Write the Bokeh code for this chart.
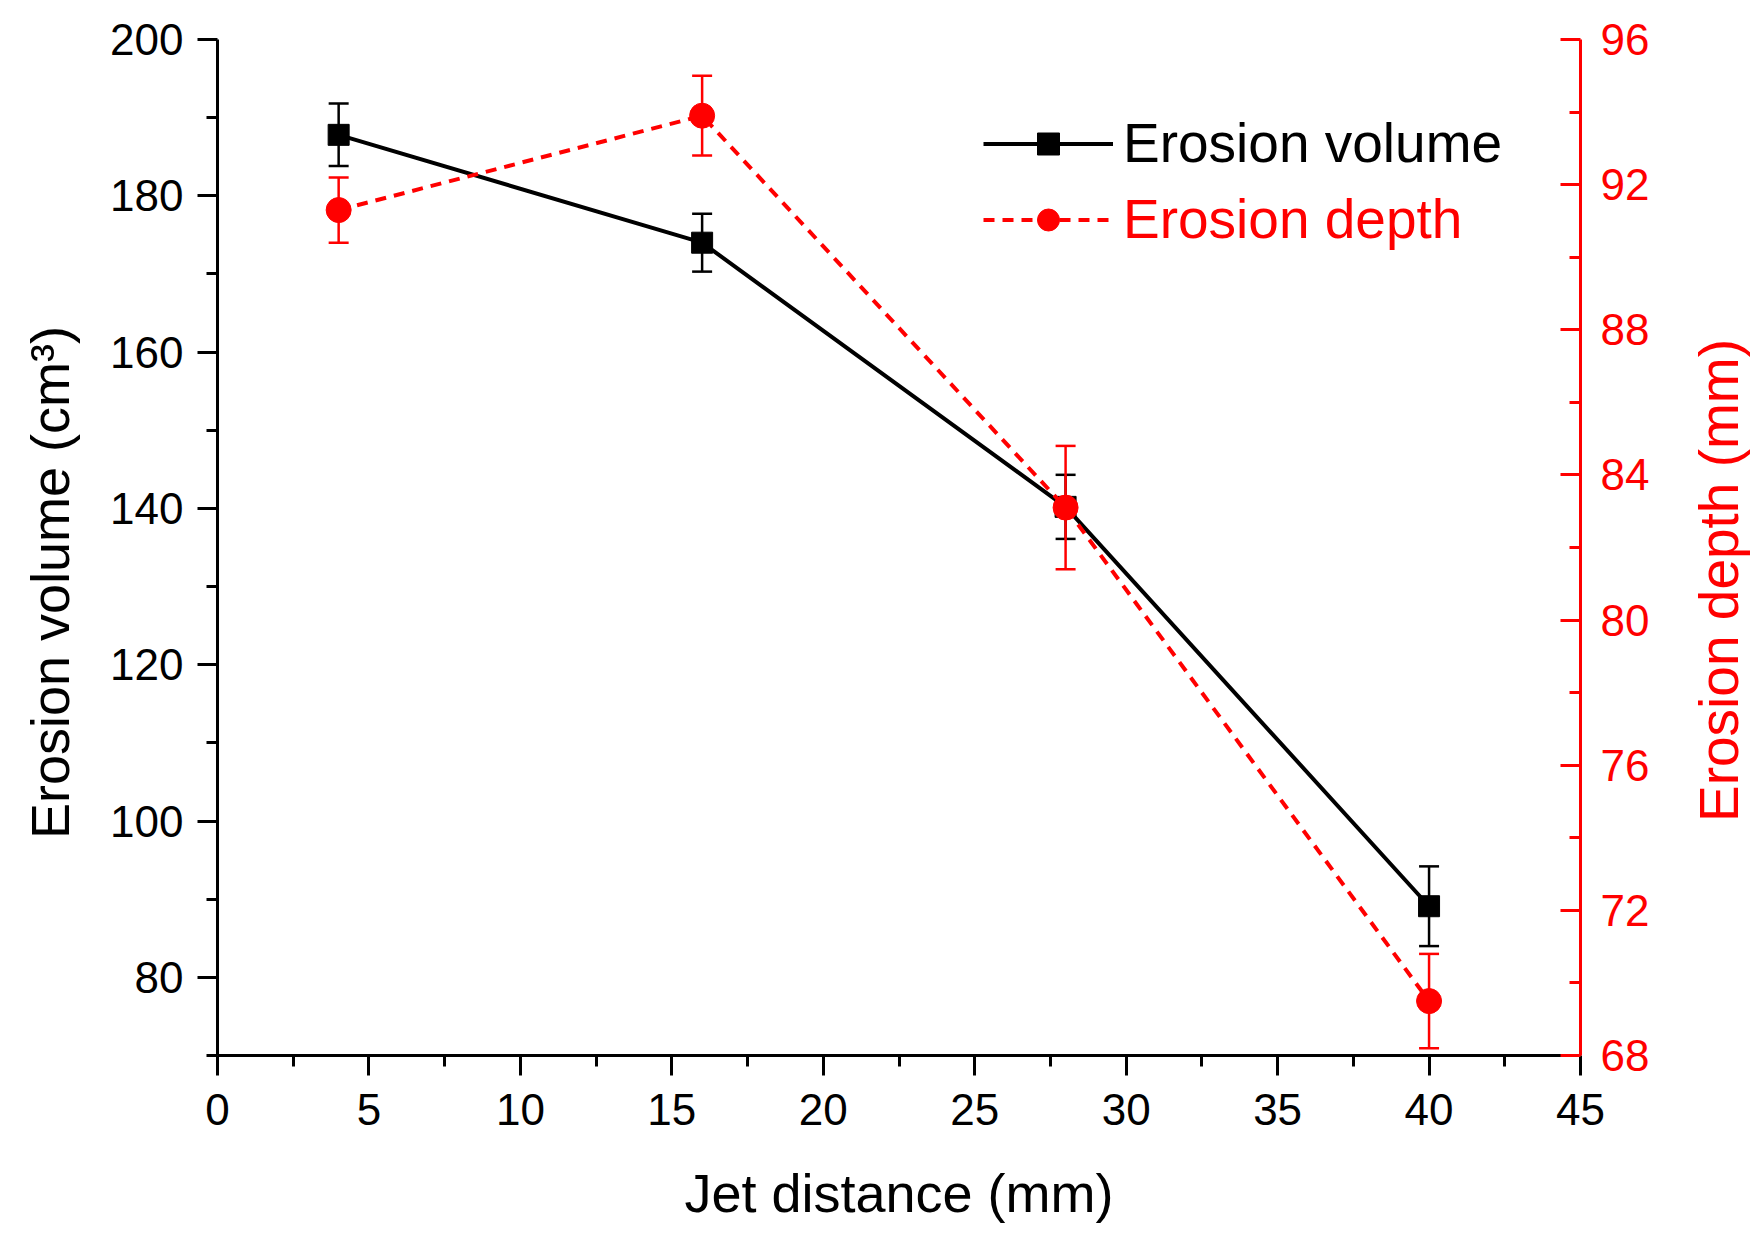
import math

from bokeh.plotting import figure
from bokeh.models import (Range1d, LinearAxis, FixedTicker, Whisker, TeeHead,
                          ColumnDataSource, Legend, LegendItem, Label)
from bokeh.embed import file_html
from bokeh.resources import INLINE

# values
jet_distance = [4, 16, 28, 40]
volume = [187.8, 174.0, 140.2, 89.1]
volume_err = [4.0, 3.7, 4.1, 5.1]
depth = [91.3, 93.9, 83.1, 69.5]
depth_err = [0.9, 1.1, 1.7, 1.3]

x_ticks = [0, 5, 10, 15, 20, 25, 30, 35, 40, 45]
x_minor = [2.5, 7.5, 12.5, 17.5, 22.5, 27.5, 32.5, 37.5, 42.5]
vol_ticks = [80, 100, 120, 140, 160, 180, 200]
vol_minor = [70, 90, 110, 130, 150, 170, 190]
depth_ticks = [68, 72, 76, 80, 84, 88, 92, 96]
depth_minor = [70, 74, 78, 82, 86, 90, 94]

FONT = "Liberation Sans"
RED = "#ff0000"

# layout: the frame fills the whole canvas and the axes are pinned at the
# data box edges, so the titles can sit anywhere without being clipped
W, H = 1755, 1226
BOX_L, BOX_R, BOX_T, BOX_B = 217, 1580, 39, 1055
px_x = (BOX_R - BOX_L) / 45
px_v = (BOX_B - BOX_T) / 130
px_d = (BOX_B - BOX_T) / 28
x_range = Range1d(-BOX_L / px_x, 45 + (W - BOX_R) / px_x)
v_range = Range1d(70 - (H - BOX_B) / px_v, 200 + BOX_T / px_v)
d_range = Range1d(68 - (H - BOX_B) / px_d, 96 + BOX_T / px_d)

src = ColumnDataSource(dict(
    x=jet_distance,
    vol=volume,
    vol_lo=[v - e for v, e in zip(volume, volume_err)],
    vol_hi=[v + e for v, e in zip(volume, volume_err)],
    dep=depth,
    dep_lo=[d - e for d, e in zip(depth, depth_err)],
    dep_hi=[d + e for d, e in zip(depth, depth_err)],
))

p = figure(width=W, height=H, x_range=x_range, y_range=v_range, title=None,
           output_backend="svg", toolbar_location=None, min_border=0)
p.extra_y_ranges = {"depth": d_range}
p.grid.visible = False
p.outline_line_color = None
p.background_fill_color = "white"
p.border_fill_color = "white"


def style_axis(ax, color, major, minor, inward=False):
    ax.axis_line_color = color
    ax.major_tick_line_color = color
    ax.minor_tick_line_color = color
    ax.axis_line_width = 3
    ax.major_tick_line_width = 3
    ax.minor_tick_line_width = 3
    ax.ticker = FixedTicker(ticks=major, minor_ticks=minor)
    if inward:
        ax.major_tick_in, ax.major_tick_out = 20, 0
        ax.minor_tick_in, ax.minor_tick_out = 11, 0
    else:
        ax.major_tick_in, ax.major_tick_out = 0, 20
        ax.minor_tick_in, ax.minor_tick_out = 0, 11
    ax.major_label_text_font = FONT
    ax.major_label_text_font_size = "44px"
    ax.major_label_text_color = color


xax = p.xaxis[0]
style_axis(xax, "black", x_ticks, x_minor)
xax.fixed_location = 70
xax.bounds = (0, 45)
xax.major_label_standoff = 18

yax = p.yaxis[0]
style_axis(yax, "black", vol_ticks, vol_minor)
yax.fixed_location = 0
yax.bounds = (70, 200)
yax.major_label_standoff = 14

rax = LinearAxis(y_range_name="depth", fixed_location=45, bounds=(68, 96))
style_axis(rax, RED, depth_ticks, depth_minor, inward=True)
rax.major_label_standoff = 20
p.add_layout(rax, "right")


def title_label(text, x, y, angle, color, size="54px"):
    # x, y: centre of the text in canvas pixels from the top left
    return Label(text=text, x=x, y=H - y, x_units="screen", y_units="screen",
                 angle=angle, text_align="center", text_baseline="middle",
                 text_font=FONT, text_font_size=size, text_color=color)


p.add_layout(title_label("Jet distance (mm)", (BOX_L + BOX_R) / 2, 1192, 0, "black"))
p.add_layout(title_label("Erosion volume (cm³)", 49, 582, math.pi / 2, "black"))
p.add_layout(title_label("Erosion depth (mm)", 1718, 580, math.pi / 2, RED, "55px"))

# erosion volume, black
vol_line = p.line("x", "vol", source=src, line_color="black", line_width=4)
vol_pts = p.scatter("x", "vol", source=src, marker="square", size=21,
                    fill_color="black", line_color="black")
p.add_layout(Whisker(base="x", lower="vol_lo", upper="vol_hi", source=src,
                     line_color="black", line_width=2.5,
                     upper_head=TeeHead(size=20, line_color="black", line_width=2.5),
                     lower_head=TeeHead(size=20, line_color="black", line_width=2.5)))

# erosion depth, red dashed on the right axis
dep_line = p.line("x", "dep", source=src, line_color=RED, line_width=4,
                  line_dash="11 8", y_range_name="depth")
dep_pts = p.scatter("x", "dep", source=src, marker="circle", size=25,
                    fill_color=RED, line_color=RED, y_range_name="depth")
p.add_layout(Whisker(base="x", lower="dep_lo", upper="dep_hi", source=src,
                     y_range_name="depth", line_color=RED, line_width=2.5,
                     upper_head=TeeHead(size=20, line_color=RED, line_width=2.5),
                     lower_head=TeeHead(size=20, line_color=RED, line_width=2.5)))


def make_legend(label, renderers, color, top):
    # top: canvas y of the legend row's top edge
    return Legend(items=[LegendItem(label=label, renderers=renderers)],
                  location=(983, H - top - 64), label_text_font=FONT,
                  label_text_font_size="55px", label_text_color=color,
                  glyph_width=130, glyph_height=55, label_standoff=10,
                  padding=0, margin=0, border_line_color=None, background_fill_alpha=0)


p.add_layout(make_legend("Erosion volume", [vol_line, vol_pts], "black", 111))
p.add_layout(make_legend("Erosion depth", [dep_line, dep_pts], RED, 187))

open("out.html", "w").write(file_html(p, INLINE))
